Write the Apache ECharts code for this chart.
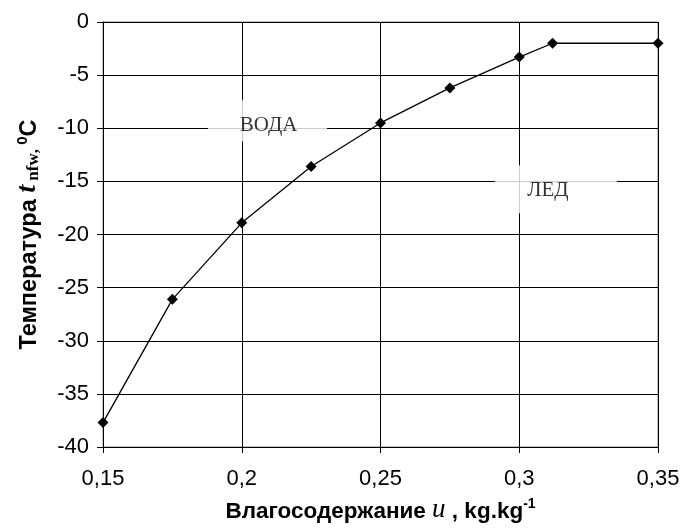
<!DOCTYPE html>
<html>
<head>
<meta charset="utf-8">
<script src="https://cdn.jsdelivr.net/npm/echarts@6/dist/echarts.min.js"></script>
<style>html,body{margin:0;padding:0;background:#fff;}#c{width:683px;height:531px;}</style>
</head>
<body>
<div id="c"></div>
<script>
var moisture = [0.15, 0.175, 0.2, 0.225, 0.25, 0.275, 0.3, 0.312, 0.35];
var temperature = [-37.7, -26.1, -18.9, -13.6, -9.5, -6.2, -3.3, -2.0, -2.0];
var xTicks = {min: 0.15, max: 0.35, interval: 0.05};
var yTicks = {min: -40, max: 0, interval: 5};
var regionLabels = [
  {name: 'ВОДА', x: 0.2093, y: -9.3},
  {name: 'ЛЕД', x: 0.3132, y: -15.75}
];

var chart = echarts.init(document.getElementById('c'), null, {renderer: 'canvas'});
var data = moisture.map(function (m, i) { return [m, temperature[i]]; });

chart.setOption({
  animation: false,
  backgroundColor: '#fff',
  grid: {left: 103, top: 22, right: 25, bottom: 84, show: true, borderColor: '#888', borderWidth: 1},
  xAxis: {
    type: 'value', min: xTicks.min, max: xTicks.max, interval: xTicks.interval,
    name: '{b|Влагосодержание }{i|u}{b| , kg.kg}{sup|-1}',
    nameLocation: 'middle', nameGap: 50,
    nameTextStyle: {
      rich: {
        b: {fontFamily: 'Liberation Sans', fontWeight: 'bold', fontSize: 22.5, color: '#000', verticalAlign: 'bottom', lineHeight: 26},
        i: {fontFamily: 'Liberation Serif', fontStyle: 'italic', fontSize: 27, color: '#000', verticalAlign: 'bottom', lineHeight: 26},
        sup: {fontFamily: 'Liberation Sans', fontWeight: 'bold', fontSize: 14, color: '#000', verticalAlign: 'top', lineHeight: 26, padding: [0, 0, 14, 0]}
      }
    },
    axisLine: {show: true, onZero: false, lineStyle: {color: '#000', width: 1}},
    axisTick: {show: true, length: 6, lineStyle: {color: '#000'}},
    axisLabel: {
      margin: 21, color: '#000', fontFamily: 'Liberation Sans', fontSize: 22,
      formatter: function (v) { return String(Math.round(v * 1000) / 1000).replace('.', ','); }
    },
    splitLine: {show: true, lineStyle: {color: '#000', width: 1}}
  },
  yAxis: {
    type: 'value', min: yTicks.min, max: yTicks.max, interval: yTicks.interval,
    name: '{b|Температура }{i|t}{s| nfw}{s|, }{sup|0}{b|C}',
    nameLocation: 'middle', nameGap: 61, nameRotate: 90,
    nameTextStyle: {
      rich: {
        b: {fontFamily: 'Liberation Sans', fontWeight: 'bold', fontSize: 23.5, color: '#000', verticalAlign: 'bottom', lineHeight: 27},
        i: {fontFamily: 'Liberation Serif', fontStyle: 'italic', fontWeight: 'bold', fontSize: 28, color: '#000', verticalAlign: 'bottom', lineHeight: 27},
        s: {fontFamily: 'Liberation Serif', fontWeight: 'bold', fontSize: 17, color: '#000', verticalAlign: 'bottom', lineHeight: 24},
        sup: {fontFamily: 'Liberation Sans', fontWeight: 'bold', fontSize: 15, color: '#000', verticalAlign: 'top', lineHeight: 27, padding: [0, 0, 14, 0]}
      }
    },
    axisLine: {show: true, onZero: false, lineStyle: {color: '#000', width: 1}},
    axisTick: {show: true, length: 6, lineStyle: {color: '#000'}},
    axisLabel: {margin: 14, color: '#000', fontFamily: 'Liberation Sans', fontSize: 22},
    splitLine: {show: true, lineStyle: {color: '#000', width: 1}}
  },
  series: [
    {
      type: 'scatter',
      data: [
        {name: regionLabels[0].name, value: [regionLabels[0].x, regionLabels[0].y], symbolSize: [119, 41], label: {offset: [1, 5]}},
        {name: regionLabels[1].name, value: [regionLabels[1].x, regionLabels[1].y], symbolSize: [122, 48], label: {offset: [-8, 1]}}
      ],
      symbol: 'rect',
      itemStyle: {color: '#fff'},
      z: 3,
      silent: true,
      label: {
        show: true, position: 'inside',
        formatter: function (p) { return p.name; },
        fontFamily: 'Liberation Serif', fontSize: 21, color: '#000'
      }
    },
    {
      type: 'line',
      data: data,
      symbol: 'diamond',
      symbolSize: 11,
      showSymbol: true,
      lineStyle: {color: '#000', width: 1.3},
      itemStyle: {color: '#000'},
      z: 5
    }
  ]
});
</script>
</body>
</html>
